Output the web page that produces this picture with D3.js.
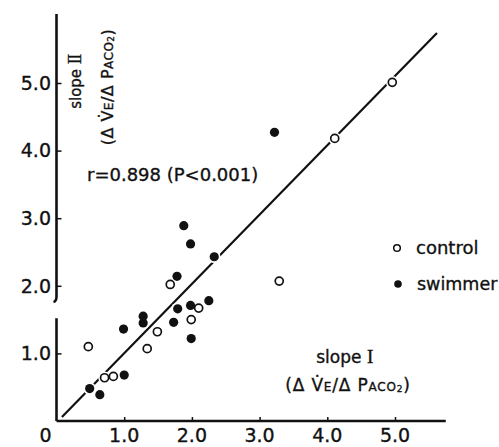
<!DOCTYPE html>
<html>
<head>
<meta charset="utf-8">
<script src="https://cdn.jsdelivr.net/npm/d3@7"></script>
<style>
  body { margin: 0; background: #fff; }
  svg text { font-family: "DejaVu Sans", sans-serif; fill: #111; stroke: #111; stroke-width: 0.35px; }
</style>
</head>
<body>
<svg id="chart" width="499" height="447"></svg>
<script>
// values: [slope I, slope II]
const control = [
  [0.47, 1.10], [0.71, 0.64], [0.84, 0.66], [1.34, 1.07], [1.49, 1.32],
  [1.68, 2.02], [1.99, 1.50], [2.10, 1.67], [3.29, 2.07], [4.11, 4.18],
  [4.96, 5.01]
];
const swimmer = [
  [0.49, 0.48], [0.64, 0.39], [1.00, 0.68], [0.99, 1.36], [1.28, 1.55],
  [1.28, 1.45], [1.73, 1.46], [1.79, 1.66], [1.78, 2.14], [1.88, 2.89],
  [1.98, 2.62], [2.33, 2.43], [1.98, 1.71], [2.25, 1.78], [1.99, 1.22],
  [3.22, 4.27]
];
const regression = [[0.08, 0.06], [5.62, 5.74]];
const ticks = [1, 2, 3, 4, 5];
const rText = "r=0.898 (P<0.001)";

const svg = d3.select('#chart');
const x = d3.scaleLinear().domain([0, 5]).range([56.5, 395]);
const y = d3.scaleLinear().domain([0, 5]).range([421, 83]);
const fmt = d3.format('.1f');

// x axis (ticks point inward)
const xAxis = d3.axisBottom(x).tickValues(ticks).tickSize(-4).tickFormat('');
const gx = svg.append('g').attr('transform', `translate(0,${y(0)})`).call(xAxis);
gx.select('.domain').remove();
gx.selectAll('.tick line').attr('stroke', '#111').attr('stroke-width', 1.5);
svg.append('line')
  .attr('x1', x(0)).attr('x2', x(5.75))
  .attr('y1', y(0)).attr('y2', y(0))
  .attr('stroke', '#111').attr('stroke-width', 2.6);

svg.selectAll('.xlab')
  .data(ticks)
  .enter().append('text')
  .attr('class', 'xlab')
  .attr('x', d => x(d)).attr('y', 442)
  .attr('text-anchor', 'middle')
  .style('font-size', '19px')
  .text(d => fmt(d));
svg.append('text').attr('x', 45.5).attr('y', 442)
  .attr('text-anchor', 'middle').style('font-size', '19px').text('0');

// y axis, broken between ~1.5 and ~1.8
const yAxis = d3.axisLeft(y).tickValues(ticks).tickSize(-5).tickFormat('');
const gy = svg.append('g').attr('transform', `translate(${x(0)},0)`).call(yAxis);
gy.select('.domain').remove();
gy.selectAll('.tick line').attr('stroke', '#111').attr('stroke-width', 1.5);

svg.append('line')
  .attr('x1', x(0)).attr('x2', x(0))
  .attr('y1', y(0)).attr('y2', y(1.52))
  .attr('stroke', '#111').attr('stroke-width', 2.6);
svg.append('path')
  .attr('d', `M${x(0)},${y(6.02)} L${x(0)},${y(1.84)} Q${x(0)},${y(1.77)} ${x(0) - 3},${y(1.76)}`)
  .attr('fill', 'none').attr('stroke', '#111').attr('stroke-width', 2.6);

svg.selectAll('.ylab')
  .data(ticks)
  .enter().append('text')
  .attr('class', 'ylab')
  .attr('x', 51).attr('y', d => y(d)).attr('dy', '0.36em')
  .attr('text-anchor', 'end')
  .style('font-size', '19px')
  .text(d => fmt(d));

// regression line
svg.append('line')
  .attr('x1', x(regression[0][0])).attr('y1', y(regression[0][1]))
  .attr('x2', x(regression[1][0])).attr('y2', y(regression[1][1]))
  .attr('stroke', '#111').attr('stroke-width', 2.2);

// white halos so the line breaks at the markers
svg.selectAll('.halo')
  .data(control.concat(swimmer))
  .enter().append('circle')
  .attr('cx', d => x(d[0])).attr('cy', d => y(d[1]))
  .attr('r', 6.3).attr('fill', '#fff');

svg.selectAll('.ctl')
  .data(control)
  .enter().append('circle')
  .attr('cx', d => x(d[0])).attr('cy', d => y(d[1]))
  .attr('r', 4).attr('fill', '#fff')
  .attr('stroke', '#111').attr('stroke-width', 1.7);

svg.selectAll('.swm')
  .data(swimmer)
  .enter().append('circle')
  .attr('cx', d => x(d[0])).attr('cy', d => y(d[1]))
  .attr('r', 4.6).attr('fill', '#111');

// legend
svg.append('circle').attr('cx', 397).attr('cy', 248).attr('r', 3.3)
  .attr('fill', '#fff').attr('stroke', '#111').attr('stroke-width', 1.5);
svg.append('text').attr('x', 416).attr('y', 254).style('font-size', '18px').text('control');
svg.append('circle').attr('cx', 398).attr('cy', 284).attr('r', 3.8).attr('fill', '#111');
svg.append('text').attr('x', 417).attr('y', 290).style('font-size', '17.5px').text('swimmer');

// correlation text
svg.append('text').attr('x', 87).attr('y', 181).style('font-size', '18px').text(rText);

// slope label helper: (ΔV̇E/ΔPACO2)
function ratioLabel(t) {
  t.append('tspan').text('(Δ V\u0307');
  t.append('tspan').style('font-size', '12px').text('E');
  t.append('tspan').text('/Δ P');
  t.append('tspan').style('font-size', '12px').text('ACO');
  t.append('tspan').style('font-size', '9px').attr('dy', 1).text('2');
  t.append('tspan').attr('dy', -1).text(')');
}

// roman numeral drawn with serif I's packed together
function roman(t, s, size) {
  t.append('tspan')
    .style('font-family', '"Liberation Serif", "DejaVu Serif", serif')
    .style('font-size', size)
    .style('letter-spacing', '-1.5px')
    .text(s);
}

// y label (rotated)
const yl1 = svg.append('text')
  .attr('transform', 'translate(81,82) rotate(-90)')
  .attr('text-anchor', 'middle')
  .style('font-size', '15px');
yl1.append('tspan').text('slope ');
roman(yl1, 'II', '18px');

const yl2 = svg.append('text')
  .attr('transform', 'translate(113,87) rotate(-90)')
  .attr('text-anchor', 'middle')
  .style('font-size', '16px')
  .style('letter-spacing', '0.5px');
ratioLabel(yl2);

// x label
const xl1 = svg.append('text')
  .attr('x', 344).attr('y', 363)
  .attr('text-anchor', 'middle')
  .style('font-size', '17px');
xl1.append('tspan').text('slope ');
roman(xl1, 'I', '19px');

const xl2 = svg.append('text')
  .attr('x', 348).attr('y', 391)
  .attr('text-anchor', 'middle')
  .style('font-size', '17px')
  .style('letter-spacing', '0.8px');
ratioLabel(xl2);
</script>
</body>
</html>
